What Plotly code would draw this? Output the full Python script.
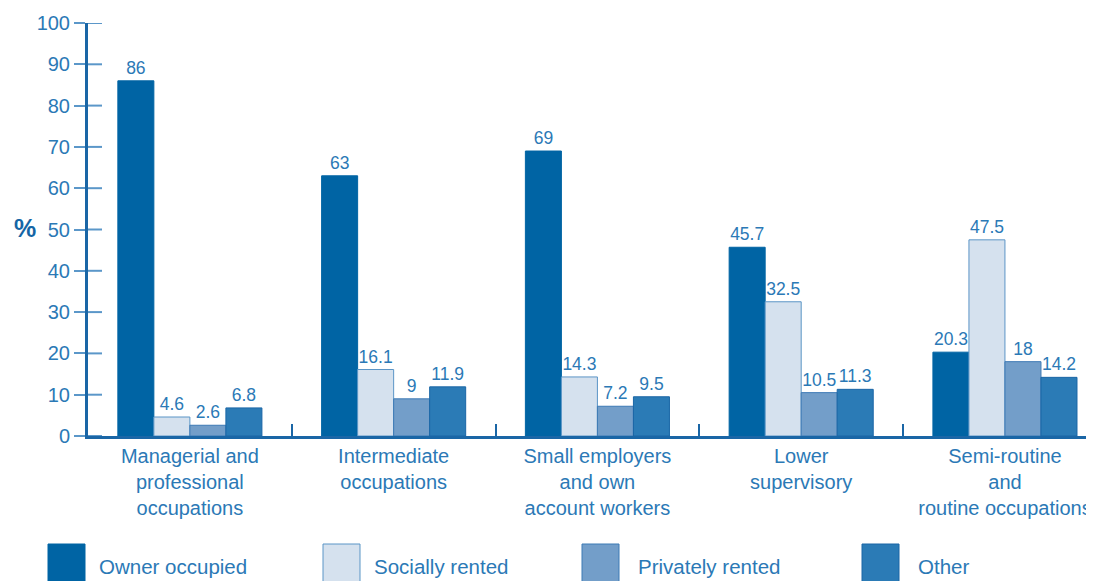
import plotly.graph_objects as go

categories = ["Managerial and<br>professional<br>occupations",
              "Intermediate<br>occupations",
              "Small employers<br>and own<br>account workers",
              "Lower<br>supervisory",
              "Semi-routine<br>and<br>routine occupations"]
owner_occupied = [86, 63, 69, 45.7, 20.3]
socially_rented = [4.6, 16.1, 14.3, 32.5, 47.5]
privately_rented = [2.6, 9, 7.2, 10.5, 18]
other = [6.8, 11.9, 9.5, 11.3, 14.2]
y_ticks = [0, 10, 20, 30, 40, 50, 60, 70, 80, 90, 100]

series = [
    ("Owner occupied", owner_occupied, "#0064a4", "#0064a4"),
    ("Socially rented", socially_rented, "#d5e1ee", "#5b95c6"),
    ("Privately rented", privately_rented, "#739ec9", "#3d7ab5"),
    ("Other", other, "#2b7bb6", "#1a66a6"),
]

# page is 1094x581; body margin of 8px shifts the figure
OFF = 8
W, H = 1094 - OFF, 581 - OFF
ML, MR, MT, MB = 88 - OFF, 0, 23 - OFF, 145
PW, PH = W - ML - MR, H - MT - MB

def px_x(px):
    return (px - OFF - ML) / PW

def px_y(py):
    return (H - MB - (py - OFF)) / PH

TXT = "#2b79b6"
AX = "#1a66a6"
FONT = "Liberation Sans, Arial, sans-serif"

fig = go.Figure()
for name, vals, fill, line in series:
    fig.add_trace(go.Bar(
        x=categories, y=vals, name=name,
        marker=dict(color=fill, line=dict(color=line, width=1)),
        text=[f"{v:g}" for v in vals], textposition="outside",
        textfont=dict(color=TXT, size=17.5, family=FONT),
        cliponaxis=False, showlegend=False,
    ))

shapes = []
# inside portion of y ticks
for t in y_ticks:
    shapes.append(dict(type="line", xref="paper", yref="y",
                       x0=0, x1=px_x(102), y0=t, y1=t,
                       line=dict(color="#5b97c9", width=2)))

# custom legend
legend_pos = [(48, 98), (323, 373), (582, 637), (862, 917)]
annotations = []
for (name, vals, fill, line), (sx, tx) in zip(series, legend_pos):
    shapes.append(dict(type="rect", xref="paper", yref="paper",
                       x0=px_x(sx), x1=px_x(sx + 37), y0=px_y(584), y1=px_y(544),
                       fillcolor=fill, line=dict(color=line, width=1)))
    annotations.append(dict(xref="paper", yref="paper", x=px_x(tx - 1), y=px_y(566),
                            text=name, showarrow=False, xanchor="left", yanchor="middle",
                            font=dict(color=TXT, size=20.5, family=FONT)))

annotations.append(dict(xref="paper", yref="paper", x=px_x(25), y=px_y(228),
                        text="<b>%</b>", showarrow=False, xanchor="center", yanchor="middle",
                        font=dict(color="#1565a5", size=25, family=FONT)))

fig.update_layout(
    width=W, height=H,
    margin=dict(l=ML, r=MR, t=MT, b=MB),
    plot_bgcolor="white", paper_bgcolor="white",
    barmode="group", bargap=0.293, bargroupgap=0,
    font=dict(family=FONT, color=TXT),
    shapes=shapes, annotations=annotations,
    xaxis=dict(range=[-0.5, 4.437], showline=True, linecolor=AX, linewidth=3,
               ticks="inside", tickson="boundaries", ticklen=12,
               tickcolor=AX, tickwidth=1.5,
               tickfont=dict(size=20, color=TXT, family=FONT),
               showgrid=False, zeroline=False),
    yaxis=dict(range=[0, 100], tickvals=y_ticks, showline=True, linecolor=AX, linewidth=3,
               ticks="outside", ticklen=11, tickcolor="#5b97c9", tickwidth=2,
               tickfont=dict(size=20, color=TXT, family=FONT),
               showgrid=False, zeroline=False),
)

fig.write_html("out.html")
